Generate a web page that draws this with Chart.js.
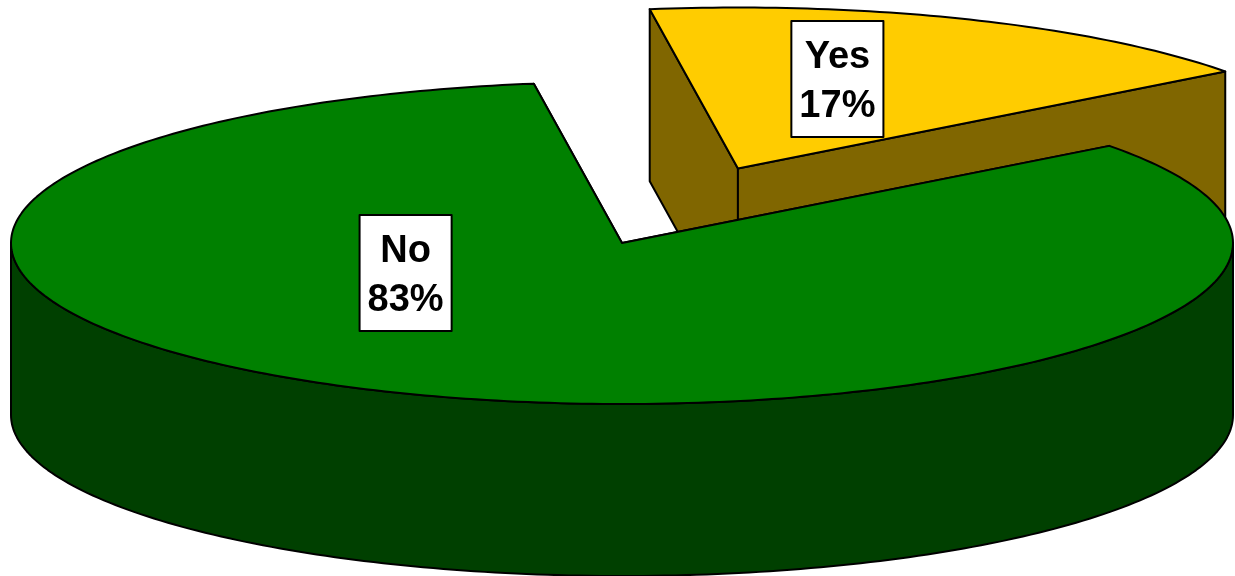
<!DOCTYPE html>
<html>
<head>
<meta charset="utf-8">
<title>Yes / No</title>
<script src="https://cdn.jsdelivr.net/npm/chart.js@4.4.1/dist/chart.umd.min.js"></script>
<style>
  html, body { margin: 0; padding: 0; background: #ffffff; }
  #wrap { width: 1235px; height: 576px; position: relative; }
</style>
</head>
<body>
<div id="wrap"><canvas id="pieChart"></canvas></div>
<script>
/* ---- data ---- */
const categories = ['Yes', 'No'];
const shares = [17, 83];
const explode = [100, 0];           // px pulled out of the pie (radius is 200)

/* ---- look ---- */
const topColors  = ['#FFCC00', '#008000'];
const sideColors = ['#806600', '#004000'];
const labelSpots = [ { turn: -6, dist: 0.58 }, { turn: 40, dist: 0.40 } ];   // deg from mid-angle, fraction of radius

// tilted disc on screen
const VIEW = { cx: 622, cy: 243, rx: 611, ry: 161, depth: 172 };
const LABEL_FONT = 'bold 38px "Liberation Sans", Arial, sans-serif';

function project(ux, uy, dz) {
  return [VIEW.cx + ux * VIEW.rx, VIEW.cy + uy * VIEW.ry + dz];
}

function sliceGeom(arc, i) {
  const R = arc.outerRadius;
  const mid = (arc.startAngle + arc.endAngle) / 2;
  const off = (arc.options.offset || 0) / R;
  return {
    i,
    start: arc.startAngle,
    end: arc.endAngle,
    mid,
    ox: Math.cos(mid) * off,
    oy: Math.sin(mid) * off,
  };
}

const hub = (s, dz) => project(s.ox, s.oy, dz);
const rim = (s, a, dz) => project(s.ox + Math.cos(a), s.oy + Math.sin(a), dz);

function arcPts(s, a, b, dz) {
  const n = Math.max(6, Math.ceil(Math.abs(b - a) / (Math.PI / 180)));
  const pts = [];
  for (let k = 0; k <= n; k++) pts.push(rim(s, a + (b - a) * k / n, dz));
  return pts;
}

function paint(ctx, pts, fill) {
  ctx.beginPath();
  pts.forEach((p, k) => k ? ctx.lineTo(p[0], p[1]) : ctx.moveTo(p[0], p[1]));
  ctx.closePath();
  ctx.fillStyle = fill;
  ctx.fill();
  ctx.strokeStyle = '#000000';
  ctx.lineWidth = 2;
  ctx.lineJoin = 'round';
  ctx.stroke();
}

/* ---- plugin: draws the arcs as a tilted, extruded pie ---- */
const pie3d = {
  id: 'pie3d',
  beforeDatasetsDraw(chart) {
    const ctx = chart.ctx;
    const meta = chart.getDatasetMeta(0);
    const slices = meta.data.map(sliceGeom);
    const D = VIEW.depth;

    // back slices first
    const order = slices.slice().sort((a, b) => a.oy - b.oy);

    ctx.save();
    order.forEach(s => {
      const side = sideColors[s.i];

      // radial cut faces
      [s.start, s.end].forEach(a => {
        paint(ctx, [hub(s, 0), rim(s, a, 0), rim(s, a, D), hub(s, D)], side);
      });

      // front-facing part of the outer wall
      for (let k = -1; k <= 1; k++) {
        const lo = Math.max(s.start, 2 * Math.PI * k);
        const hi = Math.min(s.end, 2 * Math.PI * k + Math.PI);
        if (hi > lo) {
          const wall = arcPts(s, lo, hi, 0).concat(arcPts(s, hi, lo, D));
          paint(ctx, wall, side);
        }
      }

      // top face
      paint(ctx, [hub(s, 0)].concat(arcPts(s, s.start, s.end, 0)), topColors[s.i]);
    });

    // data labels
    const total = shares.reduce((a, b) => a + b, 0);
    ctx.font = LABEL_FONT;
    ctx.textAlign = 'center';
    ctx.textBaseline = 'alphabetic';
    slices.forEach(s => {
      const spot = labelSpots[s.i];
      const a = s.mid + spot.turn * Math.PI / 180;
      const [x, y] = project(s.ox + Math.cos(a) * spot.dist, s.oy + Math.sin(a) * spot.dist, 0);
      const line1 = categories[s.i];
      const line2 = Math.round(shares[s.i] / total * 100) + '%';
      const w = Math.max(ctx.measureText(line1).width, ctx.measureText(line2).width) + 16;
      const h = 116;
      ctx.fillStyle = '#ffffff';
      ctx.fillRect(x - w / 2, y - h / 2, w, h);
      ctx.strokeStyle = '#000000';
      ctx.lineWidth = 2;
      ctx.strokeRect(x - w / 2, y - h / 2, w, h);
      ctx.fillStyle = '#000000';
      ctx.fillText(line1, x, y - 11);
      ctx.fillText(line2, x, y + 38);
    });
    ctx.restore();

    return false;   // skip the flat default arcs
  }
};

new Chart(document.getElementById('pieChart'), {
  type: 'pie',
  data: {
    labels: categories,
    datasets: [{
      data: shares,
      backgroundColor: topColors,
      borderColor: '#000000',
      borderWidth: 2,
      offset: explode,
    }],
  },
  options: {
    responsive: true,
    maintainAspectRatio: false,
    animation: false,
    radius: 200,
    rotation: -8.3,
    events: [],
    plugins: {
      legend: { display: false },
      tooltip: { enabled: false },
    },
  },
  plugins: [pie3d],
});
</script>
</body>
</html>
